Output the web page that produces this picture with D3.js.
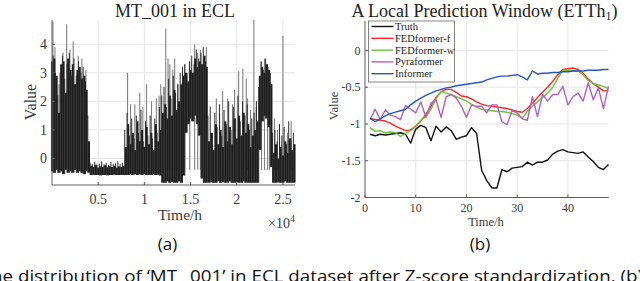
<!DOCTYPE html>
<html><head><meta charset="utf-8">
<script src="https://cdn.jsdelivr.net/npm/d3@7/dist/d3.min.js"></script>
<style>
html,body{margin:0;padding:0;background:#fff;overflow:hidden}
svg{display:block}
.serif{font-family:"Liberation Serif","Times New Roman",serif}
.sans{font-family:"Open Sans","Noto Sans",sans-serif}
</style></head>
<body>
<svg id="c" width="640" height="281"></svg>
<script>
// ---------- Panel (a): MT_001 in ECL (envelope) ----------
const eclHours = [0,250,500,750,1000,1250,1500,1750,2000,2250,2500,2750,3000,3250,3500,3750,4000,4250,4500,4750,
5000,5250,5500,5750,6000,6250,6500,6750,7000,7250,7500,7750,8000,8250,8500,8750,9000,9250,9500,9750,
10000,10250,10500,10750,11000,11250,11500,11750,12000,12250,12500,12750,13000,13250,13500,13750,14000,14250,14500,14750,
15000,15250,15500,15750,16000,16250,16500,16750,17000,17250,17500,17750,18000,18250,18500,18750,19000,19250,19500,19750,
20000,20250,20500,20750,21000,21250,21500,21750,22000,22250,22500,22750,23000,23250,23500,23750,24000,24250,24500,24750,
25000,25250,25500,25750,26000,26250];
const eclHigh = [3.4,3.5,2.9,1.6,3.3,3.4,2.3,3.5,3.1,3.3,2.6,3.1,3.2,2.8,2.9,2.4,0.6,-0.25,-0.3,-0.22,
-0.32,-0.28,-0.3,-0.24,-0.31,-0.27,-0.3,-0.25,-0.32,-0.28,-0.3,-0.26,0.4,1.2,0.5,0.9,0.3,1.3,0.6,1.0,
0.4,1.1,0.5,0.9,0.3,1.2,0.6,1.0,1.6,1.9,1.4,2.2,1.5,2.4,1.7,2.0,2.6,2.9,3.0,2.7,
3.1,3.0,3.5,3.2,3.4,3.3,3.6,3.2,0.6,0.9,0.3,1.2,0.5,1.0,0.4,1.3,0.6,1.1,0.5,1.4,
0.7,1.5,0.8,1.6,0.9,1.2,0.4,0.8,1.0,1.3,2.9,3.2,3.0,3.3,3.1,2.6,0.2,0.5,0.0,0.4,
0.1,0.6,0.2,0.7,0.3,0.5];
const eclLow = [-0.45,-0.5,-0.4,-0.5,-0.45,-0.55,-0.4,-0.5,-0.45,-0.5,-0.4,-0.5,-0.45,-0.5,-0.55,-0.45,-0.5,-0.58,-0.57,-0.58,
-0.58,-0.59,-0.58,-0.58,-0.59,-0.58,-0.58,-0.57,-0.58,-0.58,-0.58,-0.58,-0.58,-0.58,-0.55,-0.58,-0.55,-0.58,-0.56,-0.58,
-0.55,-0.58,-0.57,-0.58,-0.55,-0.58,-0.57,-0.6,-0.85,-0.85,-0.8,-0.85,-0.82,-0.85,-0.85,-0.8,-0.85,-0.6,0.9,1.2,
1.4,1.3,1.5,1.2,0.8,-0.7,-0.85,-0.85,-0.85,-0.82,-0.85,-0.85,-0.8,-0.85,-0.83,-0.85,-0.85,-0.8,-0.85,-0.85,
-0.82,-0.85,-0.85,-0.8,-0.85,-0.85,-0.85,-0.85,-0.85,-0.85,0.3,1.3,1.5,1.4,1.1,-0.3,-0.85,-0.85,-0.82,-0.85,
-0.85,-0.8,-0.85,-0.85,-0.85,-0.85];
// thin dark peaks between the band columns
const peakHours = [125,375,625,875,1125,1375,1625,1875,2125,2375,2625,2875,3125,3375,3625,3875,
4125,4375,4625,4875,5125,5375,5625,5875,6125,6375,6625,6875,7125,7375,7625,7875,
8125,8375,8625,8875,9125,9375,9625,9875,10125,10375,10625,10875,11125,11375,11625,11875,
12125,12375,12625,12875,13125,13375,13625,13875,
14125,14375,14625,14875,15125,15375,15625,15875,16125,16375,16625,16875,
17125,17375,17625,17875,18125,18375,18625,18875,19125,19375,19625,19875,20125,20375,20625,20875,21125,21375,
21625,21875,22125,22375,22625,22875,23125,23375,23625,
23875,24125,24375,24625,24875,25125,25375,25625,25875,26125];
const peakValues = [3.6,3.0,2.2,3.0,3.6,2.8,3.3,3.7,2.9,3.5,2.9,3.4,3.0,3.2,2.7,1.5,
-0.15,-0.2,-0.12,-0.22,-0.18,-0.1,-0.2,-0.15,-0.22,-0.12,-0.2,-0.17,-0.1,-0.2,-0.15,1.0,
1.6,0.8,1.4,0.7,1.5,0.9,1.7,0.6,1.3,0.8,1.5,0.7,1.4,0.9,1.8,2.2,
2.5,1.8,2.8,2.1,2.9,2.3,2.6,3.0,
3.2,3.3,3.0,3.4,3.6,3.3,3.8,3.5,3.7,3.9,3.4,1.5,
1.8,0.9,1.6,1.1,1.9,0.8,1.7,1.2,2.0,1.0,1.8,1.4,2.2,1.3,2.0,1.5,1.9,1.0,
1.4,1.6,2.0,2.5,3.4,3.1,3.5,3.2,3.0,
0.9,1.0,0.6,1.2,0.8,1.1,0.5,1.3,0.7,0.9];
const spikeHours = [100,320,760,1190,1590,1940,2300,2840,3240,3670,
8180,8500,8960,9500,9830,10230,10770,11300,11590,11770,
12310,12560,12750,13070,13280,13610,14360,14900,15440,15770,16060,16710,
17790,18140,18470,19010,19550,19760,20200,20660,21030,21170,21490,21850,22100,
22680,23000,23330,23540,24080,24410,25000,25490,25890];
const spikeValues = [4.8,3.9,2.6,3.7,4.7,3.8,4.1,3.6,3.5,3.1,
3.0,1.9,1.9,2.3,1.8,2.6,2.0,2.1,2.2,2.6,
4.55,3.5,3.3,3.1,3.5,2.6,3.3,3.4,4.0,3.7,3.8,3.9,
2.1,1.6,2.35,2.1,1.9,2.4,3.05,3.15,2.8,2.1,1.7,4.85,1.8,
3.4,3.5,3.3,3.0,1.4,1.0,4.3,0.9,1.3];
const aXTicks = [5000,10000,15000,20000,25000];
const aXTickLabels = ["0.5","1","1.5","2","2.5"];
const aYTicks = [0,1,2,3,4];

// ---------- Panel (b): A Local Prediction Window (ETTh1) ----------
const hours = [1,2,3,4,5,6,7,8,9,10,11,12,13,14,15,16,17,18,19,20,21,22,23,24,25,26,27,28,29,30,31,32,33,34,35,36,37,38,39,40,41,42,43,44,45,46,47,48];
const truth = [-1.14,-1.16,-1.14,-1.15,-1.14,-1.13,-1.12,-1.14,-1.26,-1.07,-1.02,-1.05,-1.23,-1.03,-1.11,-1.04,-1.09,-1.21,-1.18,-1.16,-1.05,-1.13,-1.63,-1.77,-1.87,-1.87,-1.62,-1.65,-1.6,-1.59,-1.58,-1.52,-1.56,-1.52,-1.52,-1.49,-1.41,-1.37,-1.35,-1.38,-1.39,-1.4,-1.38,-1.45,-1.51,-1.59,-1.62,-1.55];
const fedF = [-0.93,-0.94,-0.95,-0.96,-0.99,-1.03,-1.06,-1.09,-1.08,-1.03,-0.96,-0.87,-0.76,-0.64,-0.56,-0.53,-0.53,-0.57,-0.62,-0.63,-0.66,-0.7,-0.73,-0.75,-0.76,-0.77,-0.78,-0.79,-0.81,-0.83,-0.84,-0.79,-0.72,-0.64,-0.57,-0.5,-0.42,-0.33,-0.26,-0.25,-0.24,-0.26,-0.31,-0.39,-0.45,-0.5,-0.55,-0.55];
const fedW = [-1.05,-1.1,-1.09,-1.12,-1.11,-1.12,-1.17,-1.13,-1.09,-1.03,-0.95,-0.9,-0.8,-0.66,-0.56,-0.58,-0.6,-0.63,-0.66,-0.69,-0.73,-0.77,-0.8,-0.81,-0.82,-0.83,-0.83,-0.84,-0.86,-0.88,-0.92,-0.83,-0.76,-0.7,-0.64,-0.58,-0.5,-0.38,-0.27,-0.27,-0.28,-0.28,-0.33,-0.41,-0.45,-0.47,-0.49,-0.52];
const pyra = [-0.94,-0.8,-0.94,-0.81,-0.88,-0.9,-0.94,-0.75,-0.8,-0.85,-0.7,-0.91,-0.72,-0.67,-0.91,-0.63,-0.6,-0.65,-0.76,-0.91,-0.74,-0.76,-0.76,-0.85,-0.74,-0.74,-0.97,-1.01,-0.82,-0.85,-0.93,-0.95,-0.63,-0.9,-0.6,-0.69,-0.6,-0.6,-0.49,-0.74,-0.63,-0.58,-0.69,-0.44,-0.67,-0.51,-0.79,-0.49];
const informer = [-0.92,-0.97,-0.93,-0.89,-0.86,-0.84,-0.82,-0.8,-0.74,-0.69,-0.65,-0.61,-0.58,-0.55,-0.53,-0.51,-0.5,-0.48,-0.47,-0.46,-0.45,-0.44,-0.43,-0.4,-0.38,-0.36,-0.35,-0.35,-0.34,-0.33,-0.36,-0.4,-0.28,-0.32,-0.31,-0.31,-0.3,-0.3,-0.29,-0.29,-0.28,-0.28,-0.28,-0.27,-0.27,-0.27,-0.26,-0.26];
const seriesNames = ["Truth","FEDformer-f","FEDformer-w","Pyraformer","Informer"];
const seriesColors = ["#111111","#ff2626","#6cc33a","#b35fc0","#2456c2"];
const bXTicks = [0,10,20,30,40];
const bYTicks = [0,-0.5,-1,-1.5,-2];
const bYTickLabels = ["0","-0.5","-1","-1.5","-2"];

const svg = d3.select("#c");
const gridC = "#e6e6e6", axC = "#5a5a5a", txtC = "#3a3a3a";

// ===== Panel (a) =====
const xA = d3.scaleLinear().domain([0, 26304]).range([52, 295]);
const yA = d3.scaleLinear().domain([-0.93, 4.85]).range([185, 20]);
const gA = svg.append("g");
gA.selectAll(".gx").data(aXTicks).join("line")
  .attr("x1", d => xA(d)).attr("x2", d => xA(d)).attr("y1", 20).attr("y2", 185)
  .attr("stroke", gridC).attr("stroke-width", 1);
gA.selectAll(".gy").data(aYTicks).join("line")
  .attr("y1", d => yA(d)).attr("y2", d => yA(d)).attr("x1", 52).attr("x2", 295)
  .attr("stroke", gridC).attr("stroke-width", 1);
// gray spikes
gA.selectAll(".sp").data(spikeHours).join("line")
  .attr("x1", d => xA(d)).attr("x2", d => xA(d))
  .attr("y1", yA(-0.4)).attr("y2", (d, i) => yA(spikeValues[i]))
  .attr("stroke", "#808080").attr("stroke-width", 1.1);
// dense band
gA.selectAll(".bd").data(eclHours).join("line")
  .attr("x1", d => xA(d)).attr("x2", d => xA(d))
  .attr("y1", (d, i) => yA(eclLow[i])).attr("y2", (d, i) => yA(eclHigh[i]))
  .attr("stroke", "#1e1e1e").attr("stroke-width", 2.1);
// thin dark peaks
gA.selectAll(".pk").data(peakHours).join("line")
  .attr("x1", d => xA(d)).attr("x2", d => xA(d))
  .attr("y1", (d, i) => yA(Math.min(eclLow[i], eclLow[i + 1])))
  .attr("y2", (d, i) => yA(peakValues[i]))
  .attr("stroke", "#2a2a2a").attr("stroke-width", 1);
// axes
gA.append("line").attr("x1", 52).attr("x2", 52).attr("y1", 20).attr("y2", 185).attr("stroke", axC);
gA.append("line").attr("x1", 52).attr("x2", 295).attr("y1", 185).attr("y2", 185).attr("stroke", axC);
gA.selectAll(".tx").data(aXTicks).join("line")
  .attr("x1", d => xA(d)).attr("x2", d => xA(d)).attr("y1", 185).attr("y2", 182).attr("stroke", axC);
gA.selectAll(".ty").data(aYTicks).join("line")
  .attr("y1", d => yA(d)).attr("y2", d => yA(d)).attr("x1", 52).attr("x2", 55).attr("stroke", axC);
gA.selectAll(".txl").data(aXTicks).join("text").attr("class", "serif")
  .attr("x", d => xA(d)).attr("y", 204).attr("text-anchor", "middle")
  .attr("font-size", 14).attr("fill", txtC).text((d, i) => aXTickLabels[i]);
gA.selectAll(".tyl").data(aYTicks).join("text").attr("class", "serif")
  .attr("x", 47).attr("y", d => yA(d)).attr("dy", "0.35em").attr("text-anchor", "end")
  .attr("font-size", 14).attr("fill", txtC).text(d => d);
gA.append("text").attr("class", "serif").attr("x", 175).attr("y", 16.5).attr("text-anchor", "middle")
  .attr("font-size", 18).attr("fill", "#222").text("MT_001 in ECL");
gA.append("text").attr("class", "serif").attr("x", 180).attr("y", 220).attr("text-anchor", "middle")
  .attr("font-size", 15.5).attr("fill", txtC).text("Time/h");
gA.append("text").attr("class", "serif").attr("transform", "translate(36,102) rotate(-90)")
  .attr("text-anchor", "middle").attr("font-size", 16).attr("fill", txtC).text("Value");
const mult = gA.append("text").attr("class", "serif").attr("x", 295).attr("y", 228)
  .attr("text-anchor", "end").attr("font-size", 14).attr("fill", txtC);
mult.append("tspan").text("×10");
mult.append("tspan").attr("font-size", 10).attr("dy", -6).text("4");
gA.append("text").attr("class", "sans").attr("x", 167.5).attr("y", 250).attr("text-anchor", "middle")
  .attr("font-size", 17).attr("fill", "#111").text("(a)");

// ===== Panel (b) =====
const xB = d3.scaleLinear().domain([0, 48]).range([365, 608.5]);
const yB = d3.scaleLinear().domain([-2, 0.4]).range([197.5, 21]);
const gB = svg.append("g");
gB.selectAll(".gx").data(bXTicks.slice(1)).join("line")
  .attr("x1", d => xB(d)).attr("x2", d => xB(d)).attr("y1", 21).attr("y2", 197.5)
  .attr("stroke", gridC).attr("stroke-width", 1);
gB.selectAll(".gy").data(bYTicks.slice(0, 4)).join("line")
  .attr("y1", d => yB(d)).attr("y2", d => yB(d)).attr("x1", 365).attr("x2", 608.5)
  .attr("stroke", gridC).attr("stroke-width", 1);
const allSeries = [truth, fedF, fedW, pyra, informer];
const line = d3.line().x((d, i) => xB(hours[i])).y(d => yB(d));
gB.selectAll(".ln").data(allSeries).join("path")
  .attr("d", d => line(d)).attr("fill", "none")
  .attr("stroke", (d, i) => seriesColors[i]).attr("stroke-width", 1.4)
  .attr("stroke-linejoin", "round");
gB.append("line").attr("x1", 365).attr("x2", 365).attr("y1", 21).attr("y2", 197.5).attr("stroke", axC);
gB.append("line").attr("x1", 365).attr("x2", 608.5).attr("y1", 197.5).attr("y2", 197.5).attr("stroke", axC);
gB.selectAll(".tx").data(bXTicks).join("line")
  .attr("x1", d => xB(d)).attr("x2", d => xB(d)).attr("y1", 197.5).attr("y2", 194.5).attr("stroke", axC);
gB.selectAll(".ty").data(bYTicks).join("line")
  .attr("y1", d => yB(d)).attr("y2", d => yB(d)).attr("x1", 365).attr("x2", 368).attr("stroke", axC);
gB.selectAll(".txl").data(bXTicks).join("text").attr("class", "serif")
  .attr("x", d => xB(d)).attr("y", 211.5).attr("text-anchor", "middle")
  .attr("font-size", 12).attr("fill", txtC).text(d => d);
gB.selectAll(".tyl").data(bYTicks).join("text").attr("class", "serif")
  .attr("x", 360.5).attr("y", d => yB(d)).attr("dy", "0.35em").attr("text-anchor", "end")
  .attr("font-size", 12).attr("fill", txtC).text((d, i) => bYTickLabels[i]);
const tB = gB.append("text").attr("class", "serif").attr("x", 484.5).attr("y", 16.5)
  .attr("text-anchor", "middle").attr("font-size", 18).attr("fill", "#222");
tB.append("tspan").text("A Local Prediction Window (ETTh");
tB.append("tspan").attr("font-size", 12).attr("dy", 3).text("1");
tB.append("tspan").attr("dy", -3).text(")");
gB.append("text").attr("class", "serif").attr("x", 486).attr("y", 225.5).attr("text-anchor", "middle")
  .attr("font-size", 12.5).attr("fill", txtC).text("Time/h");
gB.append("text").attr("class", "serif").attr("transform", "translate(337.5,106) rotate(-90)")
  .attr("text-anchor", "middle").attr("font-size", 12.5).attr("fill", txtC).text("Value");
// legend
const lg = gB.append("g");
lg.append("rect").attr("x", 368.5).attr("y", 21).attr("width", 86).attr("height", 61)
  .attr("fill", "#fff").attr("stroke", "#666").attr("stroke-width", 0.8);
seriesNames.forEach((n, i) => {
  const yy = 26.5 + i * 11.8;
  lg.append("line").attr("x1", 371.5).attr("x2", 393.5).attr("y1", yy).attr("y2", yy)
    .attr("stroke", seriesColors[i]).attr("stroke-width", 1.4);
  lg.append("text").attr("class", "serif").attr("x", 395).attr("y", yy).attr("dy", "0.33em")
    .attr("font-size", 10.5).attr("fill", "#222").text(n);
});
gB.append("text").attr("class", "sans").attr("x", 480).attr("y", 250).attr("text-anchor", "middle")
  .attr("font-size", 17).attr("fill", "#111").text("(b)");

// caption (cut by the bottom edge, as in the reference)
svg.append("text").attr("class", "sans").attr("x", -9).attr("y", 282)
  .attr("font-size", 17).attr("fill", "#111")
  .attr("textLength", 652).attr("lengthAdjust", "spacingAndGlyphs")
  .text("he distribution of ‘MT_ 001’ in ECL dataset after Z-score standardization. (b)");
</script>
</body></html>
